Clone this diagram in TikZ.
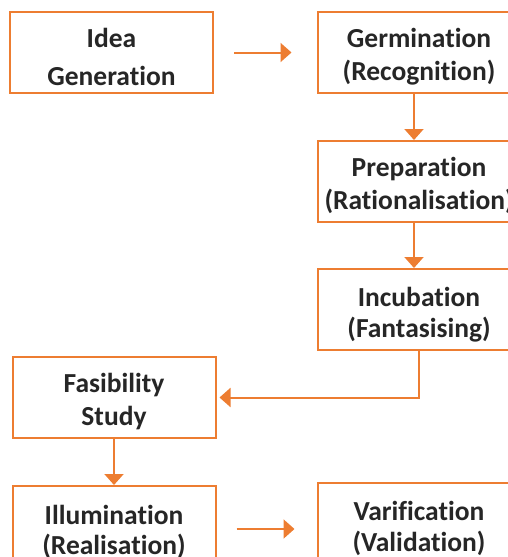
\documentclass[tikz,border=0pt]{standalone}
\usepackage{fontspec}
\setmainfont{Carlito}[Ligatures=NoCommon]
\usepackage{tikz}
\usetikzlibrary{arrows.meta}
\definecolor{stageOrange}{HTML}{ED7D31}

\tikzset{
    stageFont/.style={font=\fontsize{27.5}{#1}\selectfont\bfseries},
    stageBox/.style={draw=stageOrange, line width=2pt, fill=white, align=center,
        minimum width=203pt, minimum height=81pt, inner sep=0pt,
        text height=61pt, text depth=6pt, stageFont=33, text=black!85},
    flowArrow/.style={draw=stageOrange, line width=2pt,
        -{Triangle[length=11pt,width=19pt]}}
}

\begin{document}
\begin{tikzpicture}[x=1pt, y=-1pt]
    \useasboundingbox (0,0) rectangle (508,557);
    \clip (0,0) rectangle (508,557);
    \node[stageBox, stageFont=38, text height=71pt] (idea) at (111.5,52.5) {Idea\\Generation};
    \node[stageBox] (germ) at (419,52.5) {Germination\\(Recognition)};
    \node[stageBox] (prep) at (419,181.5) {Preparation\\(Rationalisation)};
    \node[stageBox, stageFont=31] (incub) at (419,309.5) {Incubation\\(Fantasising)};
    \node[stageBox] (fasib) at (114,397.5) {Fasibility\\Study};
    \node[stageBox, stageFont=30] (illum) at (114,526.5) {Illumination\\(Realisation)};
    \node[stageBox, stageFont=31] (varif) at (419,523.5) {Varification\\(Validation)};
    \draw[flowArrow, shorten <=20pt, shorten >=25pt] (idea) -- (germ);
    \draw[flowArrow] ([xshift=-5pt]germ.south) -- ([xshift=-5pt]prep.north);
    \draw[flowArrow] ([xshift=-5pt]prep.south) -- ([xshift=-5pt]incub.north);
    \draw[flowArrow, shorten >=3pt] (incub.south) |- (fasib.east);
    \draw[flowArrow] (fasib) -- (illum);
    \draw[flowArrow, shorten <=20pt, shorten >=22pt] (illum.east |- 0,529) -- (varif.west |- 0,529);
\end{tikzpicture}
\end{document}
